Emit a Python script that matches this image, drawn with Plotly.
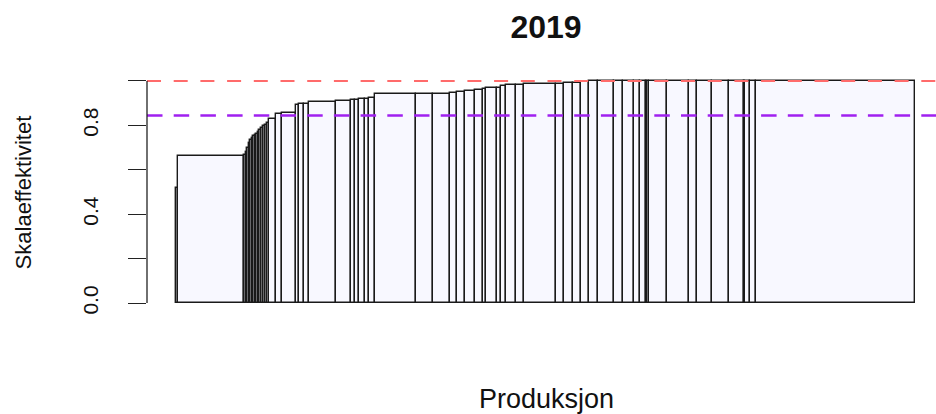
import numpy as np
import plotly.graph_objects as go

# Production per unit (bar widths) and scale efficiency per unit (bar heights),
# sorted by increasing scale efficiency.
produksjon = [
    1.5, 66.5,
    1.5, 1.8, 1.2, 1.5, 1.5, 1.2, 1.8, 1.5, 1.7, 1.6, 1.7, 1.6, 1.7, 2.0, 2.0,
    7.3, 6.0, 14.2, 2.5, 5.0, 5.0, 27.7, 15.0, 3.3, 4.0, 6.7, 3.3, 6.0,
    41.3, 16.7, 16.7, 7.6, 7.7, 10.0, 8.0, 3.3, 11.0, 3.4, 5.0, 10.0, 8.3,
    32.3, 7.7, 8.3, 8.4, 8.3, 8.3,
    16.7, 8.3, 11.0, 6.7, 5.7, 1.3, 2.0, 18.0, 22.0, 7.3, 15.2, 17.2, 14.3,
    1.5, 4.5, 6.7, 158.3,
]
skalaeffektivitet = [
    0.52, 0.66,
    0.668, 0.680, 0.700, 0.720, 0.735, 0.745, 0.752, 0.758, 0.762, 0.768,
    0.780, 0.790, 0.797, 0.803, 0.810,
    0.829, 0.849, 0.856, 0.890, 0.895, 0.897, 0.904, 0.911, 0.912, 0.913,
    0.918, 0.919, 0.924,
    0.939, 0.939, 0.943, 0.944, 0.951, 0.956, 0.957, 0.962, 0.966, 0.970,
    0.977, 0.982, 0.983,
    0.984, 0.985, 0.989, 0.990, 0.993, 0.998,
    1.0, 1.0, 1.0, 1.0, 1.0, 1.0, 1.0, 1.0, 1.0, 1.0, 1.0, 1.0, 1.0,
    1.0, 1.0, 1.0, 1.0,
]

# Reference levels: full scale efficiency and the mean level
full_effektivitet = 1.0
gjennomsnitt = 0.844

y_tick_vals = [0.0, 0.2, 0.4, 0.6, 0.8, 1.0]
y_tick_text = ["0.0", "", "0.4", "", "0.8", ""]

w = np.array(produksjon)
right = np.cumsum(w)
left = right - w
mid = left + w / 2
total = right[-1]

FONT = "Liberation Sans, Arial, sans-serif"

fig = go.Figure()
fig.add_trace(go.Bar(
    x=mid,
    y=skalaeffektivitet,
    width=w,
    base=0,
    marker=dict(color="#f8f8ff", line=dict(color="#1a1a1a", width=1.4)),
    hoverinfo="skip",
    showlegend=False,
))

# Horizontal reference lines across the whole plot region
fig.add_shape(type="line", xref="paper", x0=0, x1=1, yref="y",
              y0=full_effektivitet, y1=full_effektivitet,
              line=dict(color="#ff6b6b", width=2, dash="14px,12.7px"))
fig.add_shape(type="line", xref="paper", x0=0, x1=1, yref="y",
              y0=gjennomsnitt, y1=gjennomsnitt,
              line=dict(color="#a020f0", width=2.5, dash="15.5px,11.2px"))

# Y axis line spanning the tick range only
fig.add_shape(type="line", xref="paper", x0=0, x1=0, yref="y",
              y0=y_tick_vals[0], y1=y_tick_vals[-1],
              line=dict(color="#222", width=1.3))

fig.update_layout(
    width=936, height=414,
    margin=dict(l=147, r=0, t=72, b=102),
    paper_bgcolor="white", plot_bgcolor="white",
    bargap=0,
    font=dict(family=FONT, color="#111"),
    title=dict(text="<b>2019</b>", font=dict(size=32, family=FONT),
               x=546 / 936, xref="container", xanchor="center",
               y=1 - 27 / 414, yref="container", yanchor="middle"),
    xaxis=dict(range=[-total * 29 / 739, total * 760 / 739],
               showticklabels=False, showgrid=False, zeroline=False,
               showline=False, ticks=""),
    yaxis=dict(range=[-0.04, 1.04], tickvals=y_tick_vals, ticktext=y_tick_text,
               ticks="outside", ticklen=18, tickwidth=1.3, tickcolor="#222",
               tickangle=-90, tickfont=dict(size=21, family=FONT),
               ticklabelstandoff=22,
               showgrid=False, zeroline=False, showline=False),
    annotations=[
        dict(text="Produksjon", xref="paper", yref="paper",
             x=(546 - 147) / 789, y=(311.6 - 399) / 240,
             xanchor="center", yanchor="middle", showarrow=False,
             font=dict(size=27, family=FONT)),
        dict(text="Skalaeffektivitet", xref="paper", yref="paper",
             x=(23 - 147) / 789, y=(311.6 - 192) / 240, textangle=-90,
             xanchor="center", yanchor="middle", showarrow=False,
             font=dict(size=22, family=FONT)),
    ],
)

fig.write_html("out.html")
